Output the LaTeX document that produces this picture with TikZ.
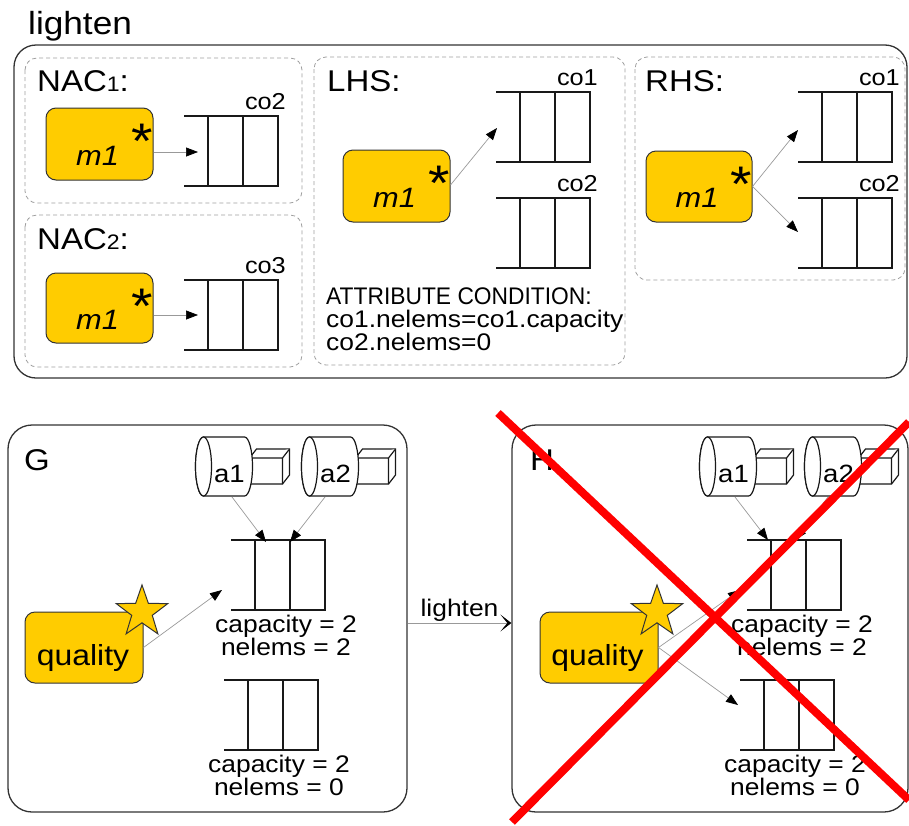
\documentclass[tikz,border=0pt]{standalone}
\usepackage{fontspec}
\setmainfont{Liberation Sans}[FakeStretch=1.1]
\newfontfamily\capsfont{Liberation Sans}[FakeStretch=0.95]
\usetikzlibrary{arrows.meta,shapes.geometric,calc}
\definecolor{gold}{RGB}{255,204,0}
\definecolor{edge}{RGB}{51,51,51}
\newcommand\fsz[1]{\fontsize{#1}{#1}\selectfont}
% container: name, x0, ytop
\newcommand\contr[3]{%
  \node[inner sep=0,outer sep=0,minimum width=94pt,minimum height=70pt] (#1) at (#2+47,#3+35) {};
  \draw[cline] (#2,#3) -- (#2+94,#3) -- (#2+94,#3+70) -- (#2,#3+70);
  \draw[cline] (#2+24,#3) -- (#2+24,#3+70) (#2+59,#3) -- (#2+59,#3+70);
}
% cylinder with box: name, cx (left ellipse centre), cy, label
\newcommand\cylbox[4]{%
  \filldraw[cylst] (#2+46,#3-8.5) -- (#2+53,#3-17.5) -- (#2+86,#3-17.5) -- (#2+86,#3+8.5) -- (#2+79,#3+17.5) -- (#2+46,#3+17.5) -- cycle;
  \draw[cylst] (#2+46,#3-8.5) -- (#2+79,#3-8.5) -- (#2+86,#3-17.5) (#2+79,#3-8.5) -- (#2+79,#3+17.5);
  \filldraw[cylst] (#2,#3-29.5) -- (#2+41,#3-29.5) arc[start angle=-90,end angle=90,x radius=8,y radius=29.5] -- (#2,#3+29.5) arc[start angle=90,end angle=270,x radius=8,y radius=29.5] -- cycle;
  \draw[cylst] (#2,#3) ellipse[x radius=8,y radius=29.5];
  \node[inner sep=0,minimum width=57pt,minimum height=59pt] (#1) at (#2+20.5,#3) {};
  \node[anchor=base,inner sep=0,font=\fsz{25}] (#1t) at (#2+26,#3+16) {#4};
}
\begin{document}
\begin{tikzpicture}[x=1pt,y=-1pt,
  frame/.style={draw=edge,line width=1.3pt,rounded corners=24pt,inner sep=0},
  dbox/.style={draw=black!38,dash pattern=on 4pt off 3pt,line width=0.8pt,rounded corners=12pt},
  gbox/.style={draw=edge,fill=gold,line width=1pt,rounded corners=10pt,inner sep=0},
  cline/.style={draw=black!90,line width=1.4pt},
  cylst/.style={draw=black!90,fill=white,line width=1.2pt},
  conn/.style={draw=black!40,line width=0.7pt,-{Triangle[length=12pt,width=9pt,color=black]}},
  title/.style={anchor=base west,inner sep=0,font=\fsz{30}},
  colbl/.style={anchor=base east,inner sep=0,font=\fsz{23}},
  mtxt/.style={anchor=base,inner sep=0,font=\fsz{28}\itshape},
  ast/.style={anchor=base,inner sep=0,font=\fsz{50}},
  info/.style={inner sep=0,font=\fontsize{24}{23}\selectfont},
  star5/.style={star,star points=5,star point ratio=2.5,minimum size=54pt,inner sep=0,draw=edge,fill=gold,line width=1pt},
]
\useasboundingbox (0,0) rectangle (909,825);

% ---------- rule ----------
\node[title,font=\fsz{32}] (rule) at (28,34) {lighten};
\draw[draw=edge,line width=1.3pt,rounded corners=22pt] (14,45) rectangle (907,378);
\draw[dbox] (25,58) rectangle (302,203);
\draw[dbox] (25,215) rectangle (302,367);
\draw[dbox] (314,57) rectangle (625,365);
\draw[dbox] (635,57) rectangle (905,280);

\node[title] (nac1) at (37,91) {NAC{\fsz{21}1}:};
\node[title] (nac2) at (37,249) {NAC{\fsz{21}2}:};
\node[title] (lhs) at (327,91) {LHS:};
\node[title] (rhs) at (645,91) {RHS:};

% m1 boxes
\node[gbox,minimum width=107pt,minimum height=72pt] (m1a) at (99.5,144) {};
\node[gbox,minimum width=107pt,minimum height=70pt] (m1b) at (99.5,308) {};
\node[gbox,minimum width=107pt,minimum height=72pt] (m1c) at (396.5,186) {};
\node[gbox,minimum width=106pt,minimum height=71pt] (m1d) at (699,186.5) {};
\foreach \b in {m1a,m1b,m1c,m1d}{
  \node[mtxt] (\b t) at ($(\b.center)+(-2,21)$) {m1};
  \node[ast] (\b s) at ($(\b.north east)+(-11.5,51)$) {*};
}

% containers
\contr{k1}{184}{116}
\contr{k2}{184}{280}
\contr{k3}{496}{92}
\contr{k4}{496}{198}
\contr{k5}{798}{92}
\contr{k6}{798}{198}
\node[colbl] (k1l) at (286,109) {co2};
\node[colbl] (k2l) at (286,273) {co3};
\node[colbl] (k3l) at (598,85) {co1};
\node[colbl] (k4l) at (598,191) {co2};
\node[colbl] (k5l) at (900,85) {co1};
\node[colbl] (k6l) at (900,191) {co2};

\coordinate (t1) at (198,152);
\coordinate (t2) at (198,315);
\coordinate (t3) at (497,128);
\coordinate (t4) at (798,130);
\coordinate (t5) at (798,232);
\draw[conn] (m1a.east |- t1) -- (t1);
\draw[conn] (m1b.east |- t2) -- (t2);
\draw[conn] ($(m1c.east)+(0,-1)$) -- (t3);
\draw[conn] (m1d.east) -- (t4);
\draw[conn] (m1d.east) -- (t5);

\node[info,anchor=north west,align=left] (cond) at (326,288) {{\capsfont ATTRIBUTE CONDITION:}\\co1.nelems=co1.capacity\\co2.nelems=0};

% ---------- graphs ----------
\node[frame,minimum width=399pt,minimum height=387pt] (G) at (207.5,618.5) {};
\node[frame,minimum width=396pt,minimum height=387pt] (H) at (710,618.5) {};
\node[title,font=\fsz{30}] (Gl) at (24,470) {G};
\node[title,font=\fsz{30}] (Hl) at (530,470) {H};

% G contents
\cylbox{ga1}{203.5}{466.5}{a1}
\cylbox{ga2}{309.5}{466.5}{a2}
\contr{g1}{231}{540}
\contr{g2}{224}{680}
\node[info,anchor=north,align=center] (g1l) at (286,615) {capacity = 2\\nelems = 2};
\node[info,anchor=north,align=center] (g2l) at (279,755) {capacity = 2\\nelems = 0};
\node[gbox,minimum width=118pt,minimum height=71pt] (gq) at (84,647.5) {};
\node[anchor=base,inner sep=0,font=\fsz{29}] (gqt) at (83,665) {quality};
\node[star5] (gs) at (142,612) {};

\coordinate (ga1s) at (232,497);
\coordinate (ga2s) at (325,497);
\coordinate (ga1e) at (266,542);
\coordinate (ga2e) at (290,542);
\coordinate (gqe) at (222,590);
\draw[conn] (ga1s) -- (ga1e);
\draw[conn] (ga2s) -- (ga2e);
\draw[conn] (gq.east) -- (gqe);

% H contents
\cylbox{ha1}{707.5}{466.5}{a1}
\cylbox{ha2}{812.5}{466.5}{a2}
\contr{h1}{747}{540}
\contr{h2}{740}{680}
\node[info,anchor=north,align=center] (h1l) at (802,615) {capacity = 2\\nelems = 2};
\node[info,anchor=north,align=center] (h2l) at (795,755) {capacity = 2\\nelems = 0};
\node[gbox,minimum width=118pt,minimum height=71pt] (hq) at (599,647.5) {};
\node[anchor=base,inner sep=0,font=\fsz{29}] (hqt) at (597.5,665) {quality};
\node[star5] (hs) at (657,612) {};

\coordinate (ha1s) at (735,497);
\coordinate (ha2s) at (828,497);
\coordinate (ha1e) at (768,540);
\coordinate (ha2e) at (795,540);
\coordinate (hqe1) at (740,590);
\coordinate (hqe2) at (738,705);
\draw[conn] (ha1s) -- (ha1e);
\draw[conn] (ha2s) -- (ha2e);
\draw[conn] (hq.east) -- (hqe1);
\draw[conn] (hq.east) -- (hqe2);

% lighten transformation
\draw[draw=black!40,line width=0.7pt,-{Stealth[length=11pt,width=17pt,inset=7pt,color=black]}] ($(G.east)+(0,4.5)$) -- ($(H.west)+(0,4.5)$);
\node[anchor=base,inner sep=0,font=\fsz{24}] (arrl) at (459.5,616) {lighten};

% red cross
\draw[red,line width=8pt] (498,413) -- (909,800);
\draw[red,line width=8pt] (909,422) -- (512,822);
\end{tikzpicture}
\end{document}
